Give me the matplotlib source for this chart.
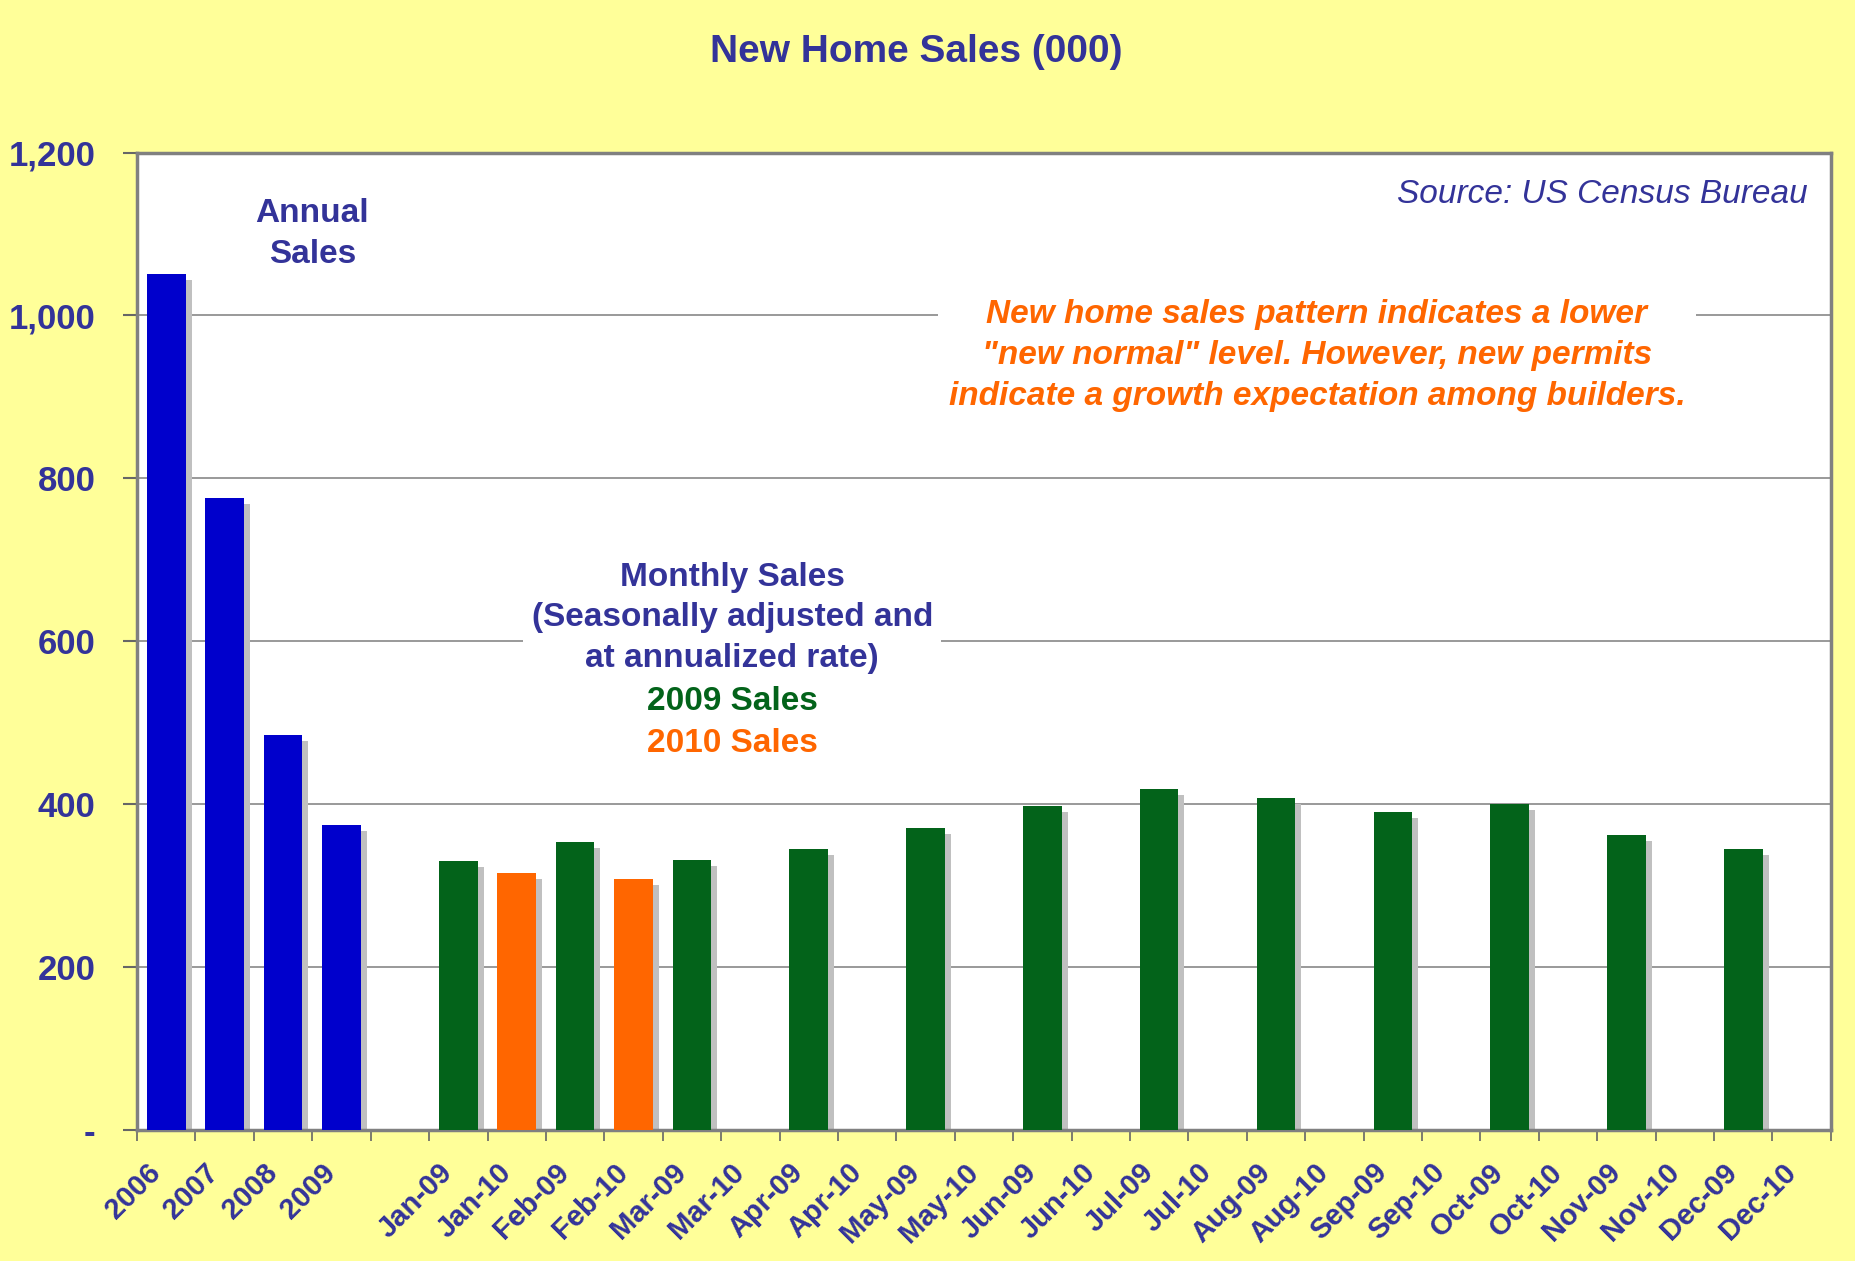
import numpy as np
import matplotlib.pyplot as plt
from matplotlib.transforms import ScaledTranslation

plt.rcParams['font.family'] = ['Liberation Sans', 'DejaVu Sans']

years = ['2006', '2007', '2008', '2009']
annual = [1051, 776, 485, 374]
months = ['Jan', 'Feb', 'Mar', 'Apr', 'May', 'Jun',
          'Jul', 'Aug', 'Sep', 'Oct', 'Nov', 'Dec']
sales_2009 = [330, 354, 332, 345, 371, 398, 419, 407, 391, 400, 362, 345]
sales_2010 = [315, 308, None, None, None, None, None, None, None, None, None, None]

navy = '#333399'
blue = '#0000CC'
green = '#03631A'
orange = '#FF6600'
bg = '#FFFF99'

# category layout: 4 years, a gap, then each month as 09 / 10 pair
labels = years + [''] + [f'{m}-{y}' for m in months for y in ('09', '10')]
pos_years = np.arange(len(years))
pos_09 = np.array([5 + 2 * i for i in range(12)])
pos_10 = pos_09 + 1

fig = plt.figure(figsize=(18.55, 12.61), dpi=100, facecolor=bg)
ax = fig.add_axes([0.0739, 0.1039, 0.9131, 0.7751])
ax.set_facecolor('white')

w = 0.66
shadow = ax.transData + ScaledTranslation(6 / 100, -6 / 100, fig.dpi_scale_trans)

def draw(x, vals, color):
    x = [a for a, v in zip(x, vals) if v is not None]
    v = [v for v in vals if v is not None]
    ax.bar(x, v, w, color='#C0C0C0', transform=shadow, zorder=2)
    ax.bar(x, v, w, color=color, zorder=3)

draw(pos_years, annual, blue)
draw(pos_09, sales_2009, green)
draw(pos_10, sales_2010, orange)

ax.set_xlim(-0.5, len(labels) - 0.5)
ax.set_ylim(0, 1200)

yt = [0, 200, 400, 600, 800, 1000, 1200]
ax.set_yticks(yt)
ax.set_yticklabels(['-'] + [f'{v:,}' for v in yt[1:]])
for v in yt[1:-1]:
    ax.axhline(v, color='#888888', lw=1.2, zorder=1)

ax.tick_params(axis='y', length=10, width=1.5, color='#666666', pad=20,
               labelsize=25, labelcolor=navy)
for t in ax.get_yticklabels():
    t.set_fontweight('bold')

ax.set_xticks(np.arange(len(labels)))
ax.set_xticklabels(labels, rotation=45, ha='right', rotation_mode='anchor',
                   fontsize=21, fontweight='bold', color=navy)
ax.tick_params(axis='x', which='major', length=0, pad=16)
shift = ScaledTranslation(-20 / 100, -6 / 100, fig.dpi_scale_trans)
for t in ax.get_xticklabels():
    t.set_transform(t.get_transform() + shift)
ax.set_xticks(np.arange(len(labels) + 1) - 0.5, minor=True)
ax.tick_params(axis='x', which='minor', length=8, width=1.2, color='#666666')

for s in ax.spines.values():
    s.set_color('#808080')
    s.set_linewidth(2.5)

fig.text(0.494, 0.959, 'New Home Sales (000)', ha='center', va='center',
         fontsize=28, fontweight='bold', color=navy)

ax.text(28.1, 1149, 'Source: US Census Bureau', ha='right', va='center',
        fontsize=24, style='italic', color=navy)

ax.text(19.7, 951,
        'New home sales pattern indicates a lower\n'
        '"new normal" level. However, new permits\n'
        'indicate a growth expectation among builders.',
        ha='center', va='center', fontsize=24, fontweight='bold', style='italic',
        color=orange, linespacing=1.42, zorder=4,
        bbox=dict(facecolor='white', edgecolor='none', pad=8))

ax.text(2.5, 1100, 'Annual\nSales', ha='center', va='center', fontsize=24,
        fontweight='bold', color=navy, linespacing=1.4)

ax.text(9.69, 629, 'Monthly Sales\n(Seasonally adjusted and\nat annualized rate)',
        ha='center', va='center', fontsize=24, fontweight='bold', color=navy,
        linespacing=1.4, zorder=4,
        bbox=dict(facecolor='white', edgecolor='none', pad=6))
ax.text(9.69, 526, '2009 Sales', ha='center', va='center', fontsize=24,
        fontweight='bold', color=green, zorder=5)
ax.text(9.69, 475, '2010 Sales', ha='center', va='center', fontsize=24,
        fontweight='bold', color=orange, zorder=5)

fig.savefig('out.png', dpi=100, facecolor=bg)
